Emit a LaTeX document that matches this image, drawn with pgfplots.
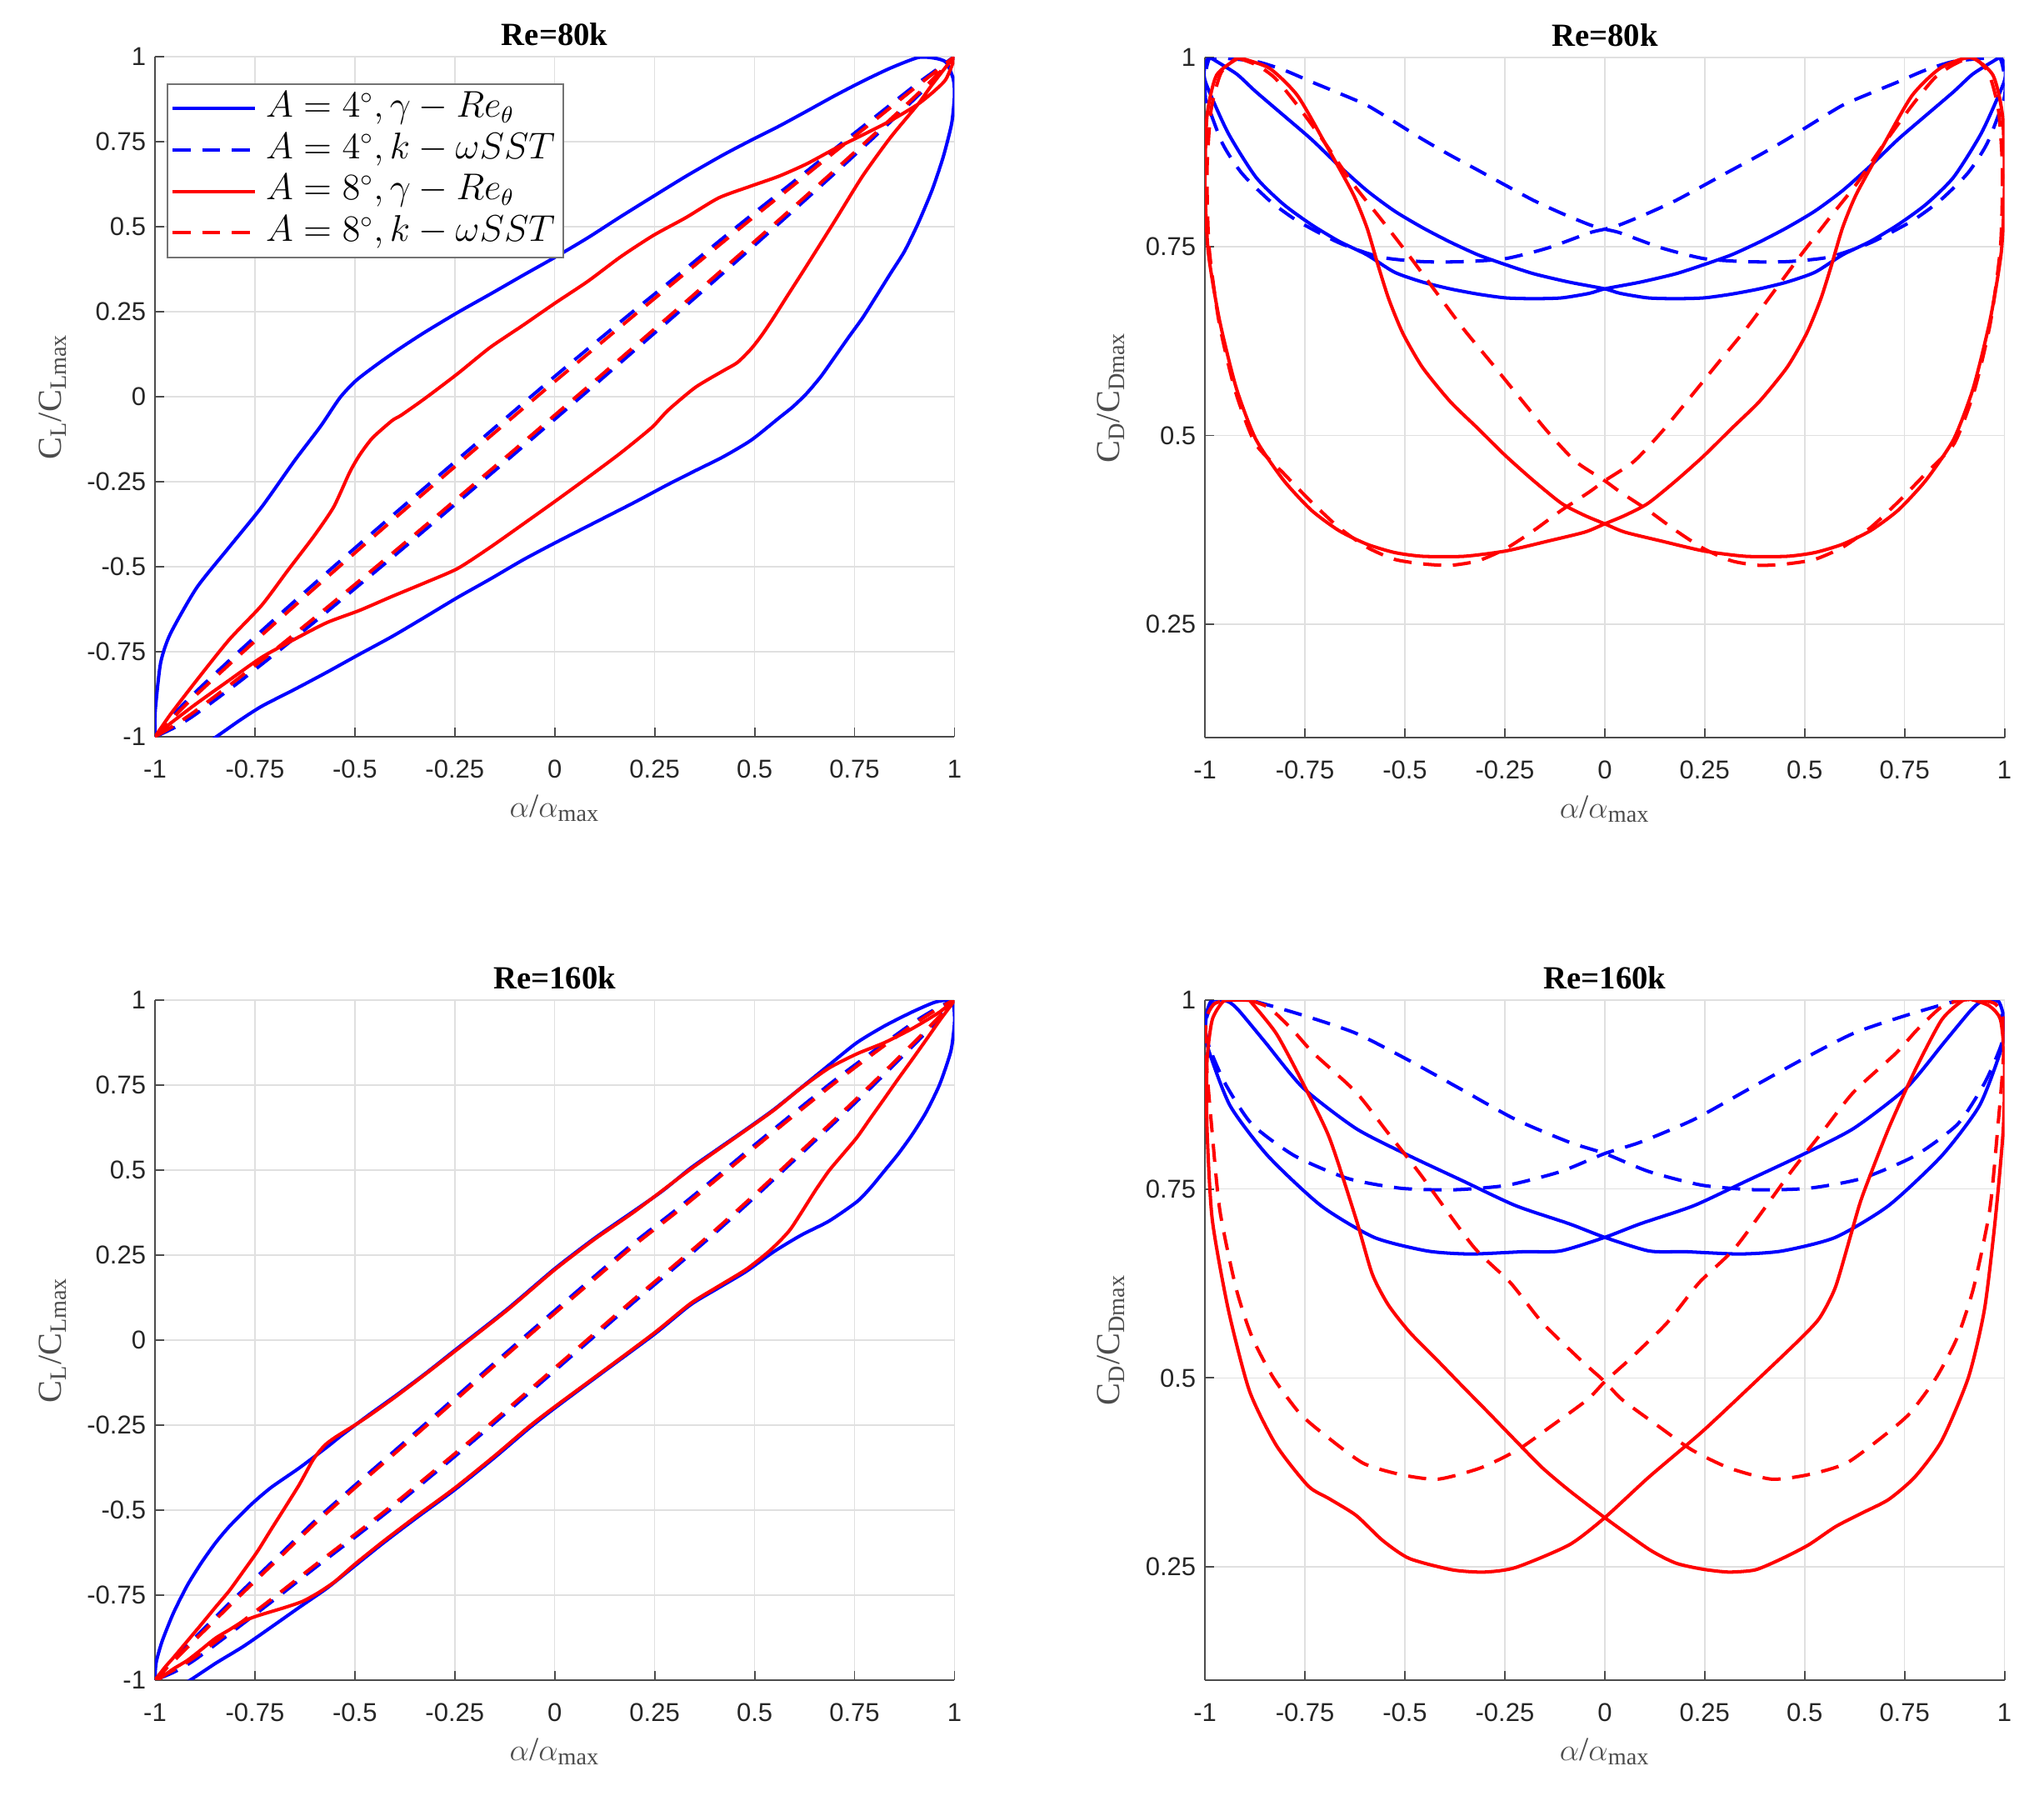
\documentclass[border=0pt]{standalone}
\usepackage[no-math]{fontspec}
\setmainfont{Liberation Serif}
\newfontfamily\arialfont{Liberation Sans}
\usepackage{pgfplots}
\pgfplotsset{compat=1.18}
\definecolor{axgray}{gray}{0.3}
\definecolor{gridgray}{gray}{0.88}
\pgfplotsset{
  panel/.style={
    scale only axis, width=309.5pt, height=263.2pt,
    axis lines*=left,
    axis line style={axgray, line width=0.6pt},
    tick align=inside, major tick length=3.5pt,
    tick style={axgray, line width=0.6pt},
    xmin=-1, xmax=1,
    xtick={-1,-0.75,-0.5,-0.25,0,0.25,0.5,0.75,1},
    grid=major, major grid style={gridgray, line width=0.5pt},
    tick label style={font=\arialfont\fontsize{10}{12}\selectfont, text=black!85},
    /pgf/number format/assume math mode=true,
    xticklabel style={yshift=-5.5pt},
    title style={font=\bfseries\fontsize{12.5}{15}\selectfont, at={(axis description cs:0.5,1)}, anchor=base, yshift=-1.5pt},
    xlabel style={font=\fontsize{13}{15}\selectfont, at={(axis description cs:0.5,0)}, anchor=base, yshift=-31pt, text=black!70},
    ylabel style={font=\fontsize{13}{15}\selectfont, anchor=base, text=black!70},
    xlabel={$\alpha$/$\alpha$\textsubscript{max}},
  },
  bs/.style={blue, solid, line width=1.3pt, smooth, tension=0.4, line join=round},
  bd/.style={blue, dash pattern=on 7pt off 4.5pt, line width=1.3pt, smooth, tension=0.4},
  rs/.style={red, solid, line width=1.3pt, smooth, tension=0.4, line join=round},
  rd/.style={red, dash pattern=on 7pt off 4.5pt, line width=1.3pt, smooth, tension=0.4},
}
\begin{document}
\begin{tikzpicture}
\useasboundingbox (0pt,0pt) rectangle (791.3pt,-696.8pt);
% ---------------- Panel 1 ----------------
\begin{axis}[panel, at={(60pt,-285.2pt)}, anchor=south west,
  ymin=-1, ymax=1, ytick={-1,-0.75,-0.5,-0.25,0,0.25,0.5,0.75,1},
  title={Re=80k},
  ylabel={C\textsubscript{L}/C\textsubscript{Lmax}},
  ylabel style={at={(axis description cs:-0.117,0.5)}},
  legend style={at={(axis description cs:0.0146,0.961)}, anchor=north west,
    draw=black!55, line width=0.6pt, fill=white,
    font=\fontsize{13.4}{16}\selectfont, inner xsep=1.3pt, inner ysep=1.5pt,
    nodes={inner xsep=2pt, inner ysep=1.25pt, text height=10pt, text depth=3.5pt}},
  legend cell align=left,
  legend image code/.code={\draw[#1] (0pt,0pt) -- (32pt,0pt); \path (33.5pt,0pt);},
]
\addplot[bs] coordinates {
(-0.999,-1.05) (-1.0,-0.97) (-0.999,-0.918) (-0.986,-0.783) (-0.962,-0.698) (-0.896,-0.562) (-0.815,-0.443) (-0.733,-0.324) (-0.651,-0.188) (-0.586,-0.087) (-0.537,-0.002) (-0.496,0.049) (-0.439,0.100) (-0.384,0.145) (-0.325,0.19) (-0.243,0.248) (-0.16,0.303) (-0.08,0.357) (0,0.41) (0.083,0.468) (0.165,0.53) (0.247,0.59) (0.33,0.65) (0.422,0.712) (0.5,0.76) (0.561,0.796) (0.63,0.84) (0.701,0.886) (0.77,0.928) (0.84,0.967) (0.909,0.998) (0.951,0.996) (0.979,0.984) (0.997,0.935) (1.0,0.886) (0.993,0.804) (0.972,0.706) (0.944,0.608) (0.909,0.51) (0.875,0.428) (0.84,0.363) (0.805,0.297) (0.77,0.232) (0.735,0.175) (0.701,0.118) (0.666,0.06) (0.631,0.011) (0.596,-0.029) (0.561,-0.062) (0.492,-0.127) (0.422,-0.176) (0.352,-0.217) (0.283,-0.258) (0.2,-0.31) (0.1,-0.37) (0,-0.43) (-0.08,-0.48) (-0.16,-0.535) (-0.243,-0.59) (-0.325,-0.648) (-0.407,-0.705) (-0.49,-0.758) (-0.57,-0.81) (-0.65,-0.86) (-0.733,-0.91) (-0.79,-0.953) (-0.847,-1.0) (-0.9,-1.04)
};
\addlegendentry{$A=4^\circ,\gamma-Re_\theta$}
\addplot[bd] coordinates {
(-1,-1) (-0.95,-0.93) (-0.9,-0.87) (-0.8,-0.76) (-0.7,-0.653) (-0.6,-0.548) (-0.5,-0.445) (-0.4,-0.343) (-0.3,-0.242) (-0.2,-0.141) (-0.1,-0.04) (0,0.06) (0.1,0.158) (0.2,0.255) (0.3,0.35) (0.4,0.447) (0.5,0.542) (0.6,0.635) (0.7,0.729) (0.8,0.822) (0.9,0.915) (0.95,0.958) (1,1)
(0.95,0.935) (0.9,0.876) (0.8,0.765) (0.7,0.657) (0.6,0.551) (0.5,0.446) (0.4,0.342) (0.3,0.239) (0.2,0.137) (0.1,0.035) (0,-0.066) (-0.1,-0.167) (-0.2,-0.267) (-0.3,-0.367) (-0.4,-0.466) (-0.5,-0.564) (-0.6,-0.661) (-0.7,-0.756) (-0.8,-0.848) (-0.9,-0.935) (-0.95,-0.972) (-1,-1)
};
\addlegendentry{$A=4^\circ,k-\omega SST$}
\addplot[rs] coordinates {
(-1,-1) (-0.962,-0.935) (-0.896,-0.834) (-0.815,-0.715) (-0.733,-0.613) (-0.668,-0.511) (-0.602,-0.409) (-0.553,-0.324) (-0.513,-0.222) (-0.488,-0.171) (-0.456,-0.121) (-0.407,-0.07) (-0.384,-0.054) (-0.325,-0.005) (-0.243,0.068) (-0.162,0.145) (-0.08,0.21) (0,0.275) (0.083,0.34) (0.165,0.412) (0.247,0.475) (0.328,0.527) (0.41,0.585) (0.491,0.62) (0.561,0.649) (0.63,0.685) (0.701,0.73) (0.77,0.77) (0.84,0.812) (0.909,0.861) (0.95,0.9) (0.979,0.935) (1,1)
(0.944,0.918) (0.909,0.861) (0.84,0.763) (0.77,0.649) (0.701,0.518) (0.631,0.387) (0.582,0.297) (0.547,0.232) (0.519,0.183) (0.492,0.142) (0.457,0.101) (0.422,0.077) (0.352,0.028) (0.283,-0.04) (0.243,-0.09) (0.165,-0.165) (0.083,-0.237) (0,-0.308) (-0.08,-0.375) (-0.162,-0.443) (-0.243,-0.505) (-0.325,-0.547) (-0.407,-0.587) (-0.488,-0.628) (-0.57,-0.664) (-0.651,-0.713) (-0.733,-0.766) (-0.815,-0.834) (-0.896,-0.902) (-0.962,-0.961) (-1,-1)
};
\addlegendentry{$A=8^\circ,\gamma-Re_\theta$}
\addplot[rd] coordinates {
(-1,-1) (-0.95,-0.938) (-0.9,-0.88) (-0.8,-0.772) (-0.7,-0.666) (-0.6,-0.562) (-0.5,-0.459) (-0.4,-0.357) (-0.3,-0.256) (-0.2,-0.155) (-0.1,-0.055) (0,0.045) (0.1,0.143) (0.2,0.241) (0.3,0.338) (0.4,0.435) (0.5,0.531) (0.6,0.625) (0.7,0.72) (0.8,0.813) (0.9,0.908) (0.95,0.954) (1,1)
(0.95,0.939) (0.9,0.882) (0.8,0.773) (0.7,0.666) (0.6,0.561) (0.5,0.457) (0.4,0.354) (0.3,0.251) (0.2,0.149) (0.1,0.047) (0,-0.054) (-0.1,-0.155) (-0.2,-0.255) (-0.3,-0.355) (-0.4,-0.454) (-0.5,-0.552) (-0.6,-0.649) (-0.7,-0.744) (-0.8,-0.836) (-0.9,-0.925) (-0.95,-0.965) (-1,-1)
};
\addlegendentry{$A=8^\circ,k-\omega SST$}
\end{axis}
% ---------------- Panel 2 ----------------
\begin{axis}[panel, at={(466.5pt,-285.5pt)}, anchor=south west,
  ymin=0.1, ymax=1, ytick={0.25,0.5,0.75,1},
  title={Re=80k},
  ylabel={C\textsubscript{D}/C\textsubscript{Dmax}},
  ylabel style={at={(axis description cs:-0.1067,0.5)}},
]
\addplot[bs] coordinates {
(-0.971,0.995) (-0.92,0.978) (-0.873,0.955) (-0.8,0.922) (-0.734,0.892) (-0.665,0.857) (-0.595,0.824) (-0.526,0.797) (-0.456,0.775) (-0.387,0.756) (-0.317,0.739) (-0.248,0.726) (-0.178,0.714) (-0.09,0.703) (0,0.694) (0.039,0.688) (0.108,0.682) (0.178,0.681) (0.248,0.682) (0.317,0.687) (0.387,0.694) (0.456,0.703) (0.526,0.716) (0.595,0.739) (0.665,0.757) (0.734,0.779) (0.804,0.806) (0.873,0.842) (0.943,0.901) (0.999,0.968) (1.0,0.99) (0.99,1.0) (0.971,0.995) (0.92,0.978) (0.873,0.955) (0.8,0.922) (0.734,0.892) (0.665,0.857) (0.595,0.824) (0.526,0.797) (0.456,0.775) (0.387,0.756) (0.317,0.739) (0.248,0.726) (0.178,0.714) (0.09,0.703) (0,0.694) (-0.039,0.688) (-0.108,0.682) (-0.178,0.681) (-0.248,0.682) (-0.317,0.687) (-0.387,0.694) (-0.456,0.703) (-0.526,0.716) (-0.595,0.739) (-0.665,0.757) (-0.734,0.779) (-0.804,0.806) (-0.873,0.842) (-0.943,0.901) (-0.999,0.968) (-1.0,0.99) (-0.99,1.0) (-0.971,0.995)
};
\addplot[bd] coordinates {
(-0.999,0.946) (-1.0,0.975) (-0.99,0.998) (-0.971,1.0) (-0.873,0.995) (-0.8,0.983) (-0.734,0.968) (-0.665,0.953) (-0.595,0.937) (-0.526,0.915) (-0.456,0.892) (-0.387,0.871) (-0.317,0.851) (-0.248,0.831) (-0.178,0.811) (-0.108,0.794) (-0.039,0.779) (0,0.773) (0.039,0.768) (0.143,0.748) (0.248,0.734) (0.352,0.73) (0.456,0.73) (0.561,0.736) (0.665,0.755) (0.769,0.784) (0.839,0.811) (0.908,0.847) (0.957,0.887) (0.999,0.946) (1.0,0.975) (0.99,0.998) (0.971,1.0) (0.873,0.995) (0.8,0.983) (0.734,0.968) (0.665,0.953) (0.595,0.937) (0.526,0.915) (0.456,0.892) (0.387,0.871) (0.317,0.851) (0.248,0.831) (0.178,0.811) (0.108,0.794) (0.039,0.779) (0,0.773) (-0.039,0.768) (-0.143,0.748) (-0.248,0.734) (-0.352,0.73) (-0.456,0.73) (-0.561,0.736) (-0.665,0.755) (-0.769,0.784) (-0.839,0.811) (-0.908,0.847) (-0.957,0.887) (-0.999,0.946)
};
\addplot[rs] coordinates {
(-0.915,1.0) (-0.839,0.986) (-0.769,0.95) (-0.7,0.887) (-0.63,0.82) (-0.595,0.775) (-0.567,0.725) (-0.54,0.68) (-0.505,0.635) (-0.456,0.59) (-0.387,0.545) (-0.317,0.509) (-0.248,0.473) (-0.178,0.44) (-0.108,0.41) (-0.05,0.394) (0,0.383) (0.05,0.372) (0.143,0.36) (0.248,0.347) (0.352,0.34) (0.456,0.34) (0.526,0.345) (0.595,0.356) (0.665,0.374) (0.734,0.401) (0.804,0.441) (0.873,0.495) (0.922,0.563) (0.964,0.653) (0.992,0.743) (1.0,0.833) (0.995,0.923) (0.971,0.977) (0.915,1.0) (0.839,0.986) (0.769,0.95) (0.7,0.887) (0.63,0.82) (0.595,0.775) (0.567,0.725) (0.54,0.68) (0.505,0.635) (0.456,0.59) (0.387,0.545) (0.317,0.509) (0.248,0.473) (0.178,0.44) (0.108,0.41) (0.05,0.394) (0,0.383) (-0.05,0.372) (-0.143,0.36) (-0.248,0.347) (-0.352,0.34) (-0.456,0.34) (-0.526,0.345) (-0.595,0.356) (-0.665,0.374) (-0.734,0.401) (-0.804,0.441) (-0.873,0.495) (-0.922,0.563) (-0.964,0.653) (-0.992,0.743) (-1.0,0.833) (-0.995,0.923) (-0.971,0.977) (-0.915,1.0)
};
\addplot[rd] coordinates {
(-0.92,1.0) (-0.87,0.99) (-0.825,0.973) (-0.769,0.937) (-0.7,0.887) (-0.63,0.833) (-0.561,0.787) (-0.491,0.739) (-0.421,0.689) (-0.352,0.64) (-0.282,0.595) (-0.213,0.55) (-0.143,0.505) (-0.074,0.466) (0,0.44) (0.039,0.425) (0.108,0.401) (0.178,0.374) (0.248,0.35) (0.317,0.334) (0.387,0.328) (0.456,0.33) (0.526,0.336) (0.595,0.352) (0.665,0.378) (0.734,0.412) (0.804,0.45) (0.875,0.49) (0.925,0.56) (0.965,0.65) (0.99,0.75) (0.995,0.85) (0.985,0.93) (0.96,0.98) (0.92,1.0) (0.87,0.99) (0.825,0.973) (0.769,0.937) (0.7,0.887) (0.63,0.833) (0.561,0.787) (0.491,0.739) (0.421,0.689) (0.352,0.64) (0.282,0.595) (0.213,0.55) (0.143,0.505) (0.074,0.466) (0,0.44) (-0.039,0.425) (-0.108,0.401) (-0.178,0.374) (-0.248,0.35) (-0.317,0.334) (-0.387,0.328) (-0.456,0.33) (-0.526,0.336) (-0.595,0.352) (-0.665,0.378) (-0.734,0.412) (-0.804,0.45) (-0.875,0.49) (-0.925,0.56) (-0.965,0.65) (-0.99,0.75) (-0.995,0.85) (-0.985,0.93) (-0.96,0.98) (-0.92,1.0)
};
\end{axis}
% ---------------- Panel 3 ----------------
\begin{axis}[panel, at={(60pt,-650.3pt)}, anchor=south west,
  ymin=-1, ymax=1, ytick={-1,-0.75,-0.5,-0.25,0,0.25,0.5,0.75,1},
  title={Re=160k},
  ylabel={C\textsubscript{L}/C\textsubscript{Lmax}},
  ylabel style={at={(axis description cs:-0.117,0.5)}},
]
\addplot[bs] coordinates {
(-1,-1) (-0.999,-0.97) (-0.996,-0.942) (-0.982,-0.885) (-0.954,-0.803) (-0.919,-0.721) (-0.884,-0.655) (-0.849,-0.597) (-0.814,-0.548) (-0.758,-0.482) (-0.709,-0.433) (-0.639,-0.376) (-0.569,-0.314) (-0.534,-0.281) (-0.464,-0.219) (-0.394,-0.16) (-0.32,-0.095) (-0.25,-0.03) (-0.12,0.09) (0,0.21) (0.1,0.3) (0.202,0.383) (0.271,0.44) (0.34,0.506) (0.409,0.563) (0.479,0.62) (0.548,0.678) (0.617,0.743) (0.686,0.809) (0.756,0.875) (0.825,0.924) (0.894,0.965) (0.949,0.993) (0.984,1.0) (0.998,0.981) (1.0,0.932) (0.991,0.85) (0.963,0.752) (0.929,0.67) (0.894,0.604) (0.859,0.547) (0.825,0.498) (0.79,0.448) (0.756,0.407) (0.686,0.35) (0.617,0.309) (0.548,0.26) (0.479,0.202) (0.409,0.153) (0.34,0.104) (0.25,0.018) (0.12,-0.095) (0,-0.2) (-0.064,-0.259) (-0.15,-0.345) (-0.25,-0.44) (-0.345,-0.522) (-0.429,-0.597) (-0.499,-0.663) (-0.569,-0.729) (-0.639,-0.786) (-0.709,-0.844) (-0.779,-0.901) (-0.849,-0.951) (-0.912,-1.0) (-0.96,-1.03) (-0.995,-1.02) (-1,-1)
};
\addplot[bd] coordinates {
(-1,-1) (-0.95,-0.935) (-0.9,-0.875) (-0.8,-0.758) (-0.7,-0.645) (-0.6,-0.532) (-0.5,-0.427) (-0.4,-0.325) (-0.3,-0.222) (-0.2,-0.118) (-0.1,-0.015) (0,0.087) (0.1,0.188) (0.2,0.288) (0.3,0.38) (0.4,0.476) (0.5,0.574) (0.6,0.67) (0.7,0.764) (0.8,0.852) (0.9,0.936) (0.95,0.972) (1,1)
(0.95,0.932) (0.9,0.87) (0.8,0.753) (0.7,0.64) (0.6,0.53) (0.5,0.42) (0.4,0.314) (0.3,0.213) (0.2,0.114) (0.1,0.012) (0,-0.09) (-0.1,-0.192) (-0.2,-0.293) (-0.3,-0.391) (-0.4,-0.488) (-0.5,-0.58) (-0.6,-0.67) (-0.7,-0.762) (-0.8,-0.852) (-0.9,-0.94) (-0.95,-0.975) (-1,-1)
};
\addplot[rs] coordinates {
(-1,-1) (-0.975,-0.962) (-0.954,-0.934) (-0.919,-0.885) (-0.884,-0.836) (-0.849,-0.786) (-0.814,-0.737) (-0.779,-0.68) (-0.744,-0.622) (-0.709,-0.556) (-0.674,-0.491) (-0.639,-0.425) (-0.604,-0.351) (-0.576,-0.31) (-0.548,-0.285) (-0.5,-0.25) (-0.464,-0.222) (-0.394,-0.163) (-0.32,-0.097) (-0.25,-0.033) (-0.12,0.087) (0,0.207) (0.1,0.297) (0.202,0.38) (0.34,0.503) (0.479,0.618) (0.548,0.676) (0.617,0.742) (0.686,0.8) (0.756,0.842) (0.825,0.875) (0.894,0.916) (0.963,0.965) (1,1)
(0.963,0.94) (0.929,0.883) (0.894,0.825) (0.859,0.768) (0.825,0.711) (0.79,0.653) (0.756,0.596) (0.721,0.547) (0.686,0.498) (0.652,0.44) (0.617,0.375) (0.589,0.325) (0.562,0.29) (0.53,0.255) (0.479,0.208) (0.409,0.158) (0.34,0.108) (0.25,0.022) (0.12,-0.092) (0,-0.196) (-0.064,-0.254) (-0.15,-0.34) (-0.25,-0.435) (-0.345,-0.517) (-0.429,-0.592) (-0.499,-0.658) (-0.55,-0.71) (-0.59,-0.742) (-0.63,-0.768) (-0.674,-0.786) (-0.744,-0.811) (-0.779,-0.827) (-0.814,-0.852) (-0.849,-0.877) (-0.884,-0.91) (-0.919,-0.942) (-0.954,-0.967) (-0.989,-0.996) (-1,-1)
};
\addplot[rd] coordinates {
(-1,-1) (-0.95,-0.94) (-0.9,-0.882) (-0.8,-0.766) (-0.7,-0.653) (-0.6,-0.54) (-0.5,-0.435) (-0.4,-0.333) (-0.3,-0.23) (-0.2,-0.126) (-0.1,-0.023) (0,0.079) (0.1,0.18) (0.2,0.28) (0.3,0.372) (0.4,0.468) (0.5,0.566) (0.6,0.662) (0.7,0.756) (0.8,0.845) (0.9,0.93) (0.95,0.968) (1,1)
(0.95,0.937) (0.9,0.877) (0.8,0.761) (0.7,0.648) (0.6,0.538) (0.5,0.428) (0.4,0.322) (0.3,0.221) (0.2,0.122) (0.1,0.02) (0,-0.082) (-0.1,-0.184) (-0.2,-0.285) (-0.3,-0.383) (-0.4,-0.48) (-0.5,-0.572) (-0.6,-0.662) (-0.7,-0.754) (-0.8,-0.844) (-0.9,-0.932) (-0.95,-0.968) (-1,-1)
};
\end{axis}
% ---------------- Panel 4 ----------------
\begin{axis}[panel, at={(466.5pt,-650.3pt)}, anchor=south west,
  ymin=0.1, ymax=1, ytick={0.25,0.5,0.75,1},
  title={Re=160k},
  ylabel={C\textsubscript{D}/C\textsubscript{Dmax}},
  ylabel style={at={(axis description cs:-0.1067,0.5)}},
]
\addplot[bs] coordinates {
(-1.0,0.96) (-0.995,0.985) (-0.982,1.0) (-0.942,0.998) (-0.915,0.986) (-0.849,0.944) (-0.755,0.884) (-0.622,0.830) (-0.489,0.794) (-0.356,0.761) (-0.223,0.728) (-0.089,0.704) (0,0.686) (0.111,0.668) (0.204,0.667) (0.337,0.664) (0.444,0.668) (0.577,0.686) (0.710,0.728) (0.843,0.794) (0.937,0.860) (0.990,0.932) (1.0,0.962) (0.995,0.985) (0.982,1.0) (0.942,0.998) (0.915,0.986) (0.849,0.944) (0.755,0.884) (0.622,0.830) (0.489,0.794) (0.356,0.761) (0.223,0.728) (0.089,0.704) (0,0.686) (-0.111,0.668) (-0.204,0.667) (-0.337,0.664) (-0.444,0.668) (-0.577,0.686) (-0.710,0.728) (-0.843,0.794) (-0.937,0.860) (-0.990,0.932) (-1.0,0.96)
};
\addplot[bd] coordinates {
(-0.99,0.938) (-1.0,0.965) (-0.985,0.993) (-0.95,1.0) (-0.889,1.0) (-0.755,0.980) (-0.622,0.956) (-0.489,0.920) (-0.356,0.881) (-0.223,0.842) (-0.089,0.812) (0,0.797) (0.111,0.773) (0.244,0.755) (0.377,0.749) (0.510,0.751) (0.643,0.764) (0.776,0.794) (0.883,0.836) (0.95,0.890) (0.99,0.938) (1.0,0.965) (0.985,0.993) (0.95,1.0) (0.889,1.0) (0.755,0.98) (0.622,0.956) (0.489,0.92) (0.356,0.881) (0.223,0.842) (0.089,0.812) (0,0.797) (-0.111,0.773) (-0.244,0.755) (-0.377,0.749) (-0.51,0.751) (-0.643,0.764) (-0.776,0.794) (-0.883,0.836) (-0.95,0.89) (-0.99,0.938)
};
\addplot[rs] coordinates {
(-0.889,1.0) (-0.822,0.956) (-0.755,0.890) (-0.689,0.818) (-0.622,0.710) (-0.582,0.638) (-0.542,0.597) (-0.489,0.561) (-0.422,0.525) (-0.356,0.489) (-0.289,0.453) (-0.223,0.417) (-0.156,0.381) (-0.089,0.351) (0,0.315) (0.111,0.273) (0.177,0.255) (0.243,0.247) (0.310,0.243) (0.377,0.246) (0.444,0.261) (0.510,0.279) (0.577,0.303) (0.643,0.321) (0.710,0.339) (0.776,0.369) (0.843,0.417) (0.910,0.501) (0.950,0.591) (0.977,0.710) (0.997,0.830) (1.0,0.920) (0.990,0.974) (0.963,0.992) (0.923,1.0) (0.897,1.0)
(0.843,0.974) (0.777,0.908) (0.710,0.830) (0.644,0.740) (0.617,0.692) (0.577,0.620) (0.537,0.579) (0.484,0.549) (0.377,0.495) (0.244,0.429) (0.111,0.369) (0,0.315) (-0.089,0.279) (-0.223,0.249) (-0.302,0.243) (-0.382,0.246) (-0.489,0.261) (-0.556,0.285) (-0.622,0.318) (-0.689,0.34) (-0.742,0.357) (-0.822,0.411) (-0.889,0.483) (-0.942,0.591) (-0.982,0.710) (-0.995,0.830) (-0.995,0.920) (-0.982,0.974) (-0.955,0.998) (-0.929,1.0) (-0.889,1.0)
};
\addplot[rd] coordinates {
(-0.89,1.0) (-0.84,0.99) (-0.78,0.96) (-0.729,0.93) (-0.622,0.878) (-0.542,0.824) (-0.462,0.770) (-0.329,0.674) (-0.236,0.626) (-0.156,0.573) (-0.063,0.525) (0,0.495) (0.044,0.471) (0.137,0.435) (0.217,0.405) (0.310,0.381) (0.417,0.366) (0.510,0.372) (0.604,0.387) (0.697,0.423) (0.763,0.453) (0.830,0.501) (0.883,0.555) (0.923,0.620) (0.963,0.722) (0.983,0.830) (0.997,0.920) (0.997,0.974) (0.977,0.995) (0.937,1.0) (0.89,1.0)
(0.84,0.99) (0.78,0.96) (0.729,0.93) (0.622,0.878) (0.542,0.824) (0.462,0.770) (0.329,0.674) (0.236,0.626) (0.156,0.573) (0.063,0.525) (0,0.495) (-0.044,0.471) (-0.137,0.435) (-0.217,0.405) (-0.310,0.381) (-0.417,0.366) (-0.510,0.372) (-0.604,0.387) (-0.697,0.423) (-0.763,0.453) (-0.830,0.501) (-0.883,0.555) (-0.923,0.620) (-0.963,0.722) (-0.983,0.830) (-0.997,0.920) (-0.997,0.974) (-0.977,0.995) (-0.937,1.0) (-0.89,1.0)
};
\end{axis}
\end{tikzpicture}
\end{document}
